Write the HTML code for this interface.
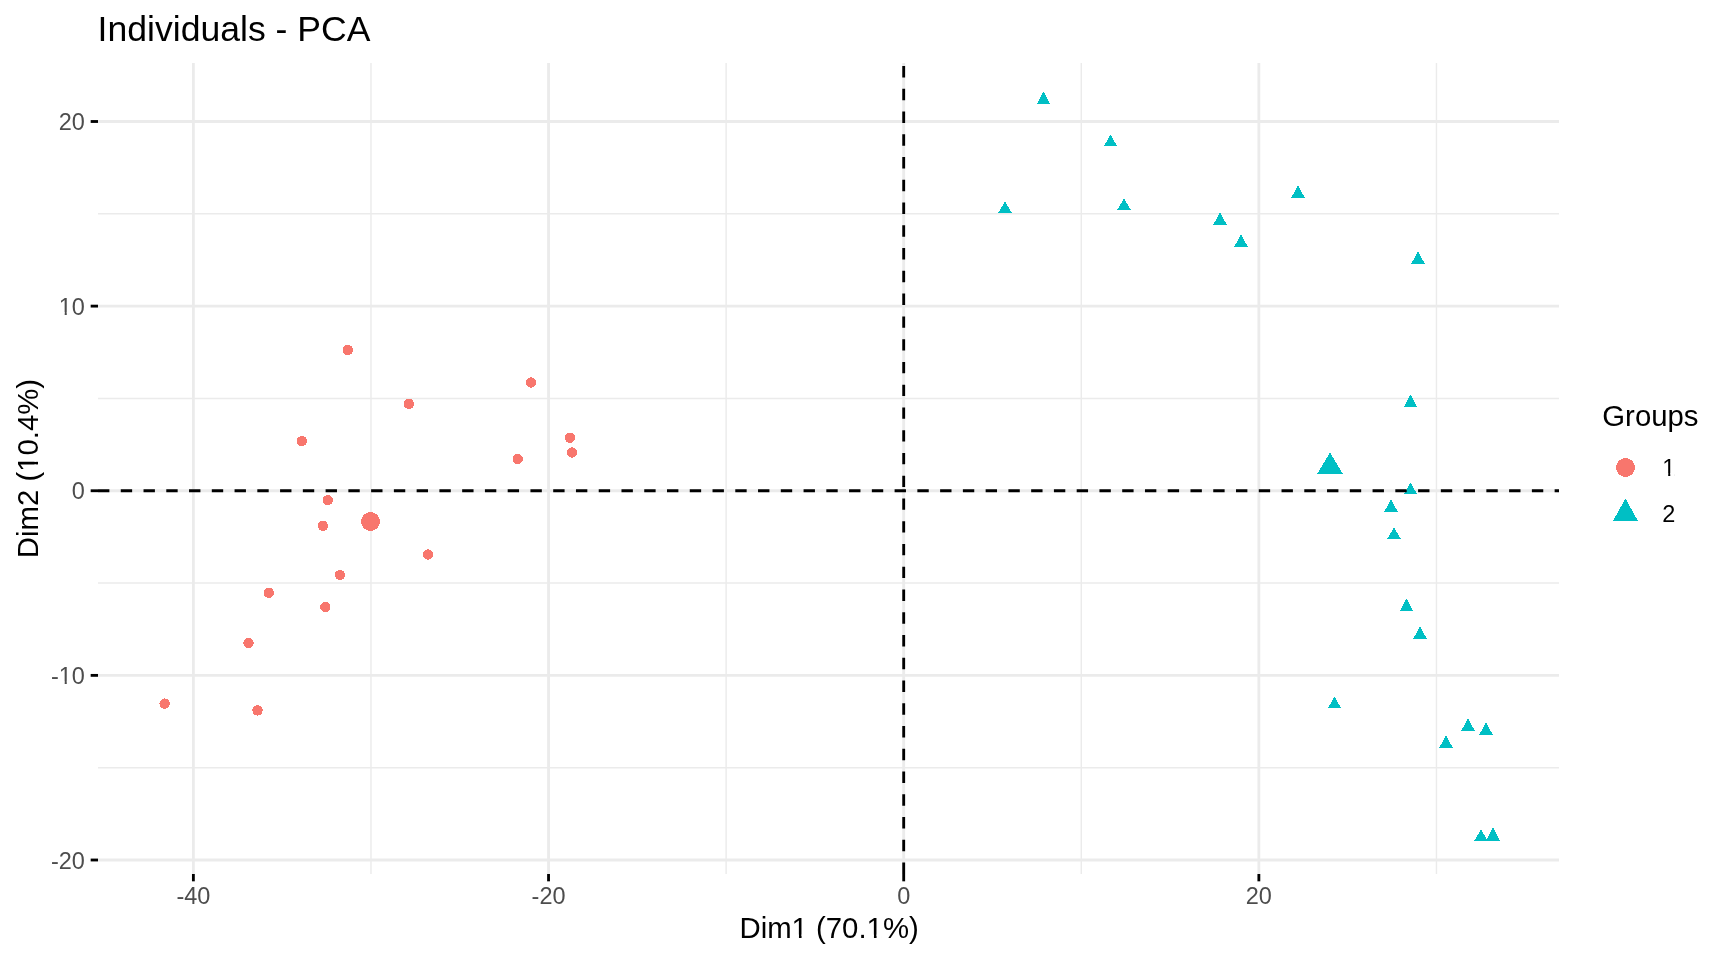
<!DOCTYPE html><html><head><meta charset="utf-8"><title>Individuals - PCA</title>
<style>html,body{margin:0;padding:0;background:#fff;width:1728px;height:960px;overflow:hidden}svg{display:block;will-change:transform}circle,polygon{shape-rendering:crispEdges}text{font-family:"Liberation Sans",sans-serif}</style></head><body>
<svg width="1728" height="960" viewBox="0 0 1728 960">
<rect width="1728" height="960" fill="#fff"/>
<line x1="370.96" y1="874" x2="370.96" y2="63" stroke="#EBEBEB" stroke-width="1.42"/>
<line x1="726.12" y1="874" x2="726.12" y2="63" stroke="#EBEBEB" stroke-width="1.42"/>
<line x1="1081.28" y1="874" x2="1081.28" y2="63" stroke="#EBEBEB" stroke-width="1.42"/>
<line x1="1436.44" y1="874" x2="1436.44" y2="63" stroke="#EBEBEB" stroke-width="1.42"/>
<line x1="98" y1="213.81" x2="1559" y2="213.81" stroke="#EBEBEB" stroke-width="1.42"/>
<line x1="98" y1="398.44" x2="1559" y2="398.44" stroke="#EBEBEB" stroke-width="1.42"/>
<line x1="98" y1="583.06" x2="1559" y2="583.06" stroke="#EBEBEB" stroke-width="1.42"/>
<line x1="98" y1="767.69" x2="1559" y2="767.69" stroke="#EBEBEB" stroke-width="1.42"/>
<line x1="193.38" y1="874" x2="193.38" y2="63" stroke="#EBEBEB" stroke-width="2.84"/>
<line x1="548.54" y1="874" x2="548.54" y2="63" stroke="#EBEBEB" stroke-width="2.84"/>
<line x1="903.70" y1="874" x2="903.70" y2="63" stroke="#EBEBEB" stroke-width="2.84"/>
<line x1="1258.86" y1="874" x2="1258.86" y2="63" stroke="#EBEBEB" stroke-width="2.84"/>
<line x1="98" y1="121.50" x2="1559" y2="121.50" stroke="#EBEBEB" stroke-width="2.84"/>
<line x1="98" y1="306.12" x2="1559" y2="306.12" stroke="#EBEBEB" stroke-width="2.84"/>
<line x1="98" y1="490.75" x2="1559" y2="490.75" stroke="#EBEBEB" stroke-width="2.84"/>
<line x1="98" y1="675.38" x2="1559" y2="675.38" stroke="#EBEBEB" stroke-width="2.84"/>
<line x1="98" y1="860.00" x2="1559" y2="860.00" stroke="#EBEBEB" stroke-width="2.84"/>
<circle cx="347.8" cy="350.1" r="5.2" fill="#F8766D"/>
<circle cx="531.0" cy="382.5" r="5.2" fill="#F8766D"/>
<circle cx="408.9" cy="403.9" r="5.2" fill="#F8766D"/>
<circle cx="301.9" cy="441.1" r="5.2" fill="#F8766D"/>
<circle cx="569.9" cy="437.7" r="5.2" fill="#F8766D"/>
<circle cx="572.0" cy="452.5" r="5.2" fill="#F8766D"/>
<circle cx="517.7" cy="459.0" r="5.2" fill="#F8766D"/>
<circle cx="327.7" cy="500.2" r="5.2" fill="#F8766D"/>
<circle cx="322.9" cy="525.8" r="5.2" fill="#F8766D"/>
<circle cx="428.0" cy="554.5" r="5.2" fill="#F8766D"/>
<circle cx="340.0" cy="575.0" r="5.2" fill="#F8766D"/>
<circle cx="268.75" cy="592.7" r="5.2" fill="#F8766D"/>
<circle cx="325.4" cy="607.0" r="5.2" fill="#F8766D"/>
<circle cx="248.5" cy="643.0" r="5.2" fill="#F8766D"/>
<circle cx="164.6" cy="703.6" r="5.2" fill="#F8766D"/>
<circle cx="257.5" cy="710.4" r="5.2" fill="#F8766D"/>
<circle cx="370.5" cy="521.5" r="9.5" fill="#F8766D"/>
<polygon points="1043.50,91.50 1050.00,104.00 1037.00,104.00" fill="#00BFC4"/>
<polygon points="1110.50,134.50 1117.00,146.00 1104.00,146.00" fill="#00BFC4"/>
<polygon points="1005.00,201.50 1012.00,213.00 998.00,213.00" fill="#00BFC4"/>
<polygon points="1124.00,198.50 1131.00,210.00 1117.00,210.00" fill="#00BFC4"/>
<polygon points="1220.00,212.50 1227.00,225.00 1213.00,225.00" fill="#00BFC4"/>
<polygon points="1241.00,234.50 1248.00,247.00 1234.00,247.00" fill="#00BFC4"/>
<polygon points="1298.00,185.50 1305.00,198.00 1291.00,198.00" fill="#00BFC4"/>
<polygon points="1418.00,251.50 1425.00,264.00 1411.00,264.00" fill="#00BFC4"/>
<polygon points="1410.50,394.50 1417.00,407.00 1404.00,407.00" fill="#00BFC4"/>
<polygon points="1410.50,482.50 1417.00,494.00 1404.00,494.00" fill="#00BFC4"/>
<polygon points="1391.00,499.50 1398.00,512.00 1384.00,512.00" fill="#00BFC4"/>
<polygon points="1394.00,527.50 1401.00,539.00 1387.00,539.00" fill="#00BFC4"/>
<polygon points="1406.50,598.50 1413.00,611.00 1400.00,611.00" fill="#00BFC4"/>
<polygon points="1420.00,626.50 1427.00,639.00 1413.00,639.00" fill="#00BFC4"/>
<polygon points="1334.50,696.50 1341.00,708.00 1328.00,708.00" fill="#00BFC4"/>
<polygon points="1468.00,718.50 1475.00,731.00 1461.00,731.00" fill="#00BFC4"/>
<polygon points="1486.00,722.50 1493.00,735.00 1479.00,735.00" fill="#00BFC4"/>
<polygon points="1446.00,735.50 1453.00,748.00 1439.00,748.00" fill="#00BFC4"/>
<polygon points="1481.00,829.50 1488.00,841.00 1474.00,841.00" fill="#00BFC4"/>
<polygon points="1493.00,827.50 1500.00,841.00 1486.00,841.00" fill="#00BFC4"/>
<polygon points="1330.00,452.50 1343.00,474.00 1317.00,474.00" fill="#00BFC4"/>
<line x1="98" y1="490.75" x2="1559" y2="490.75" stroke="#000" stroke-width="2.84" stroke-dasharray="11.38 11.38"/>
<line x1="903.70" y1="874" x2="903.70" y2="63" stroke="#000" stroke-width="2.84" stroke-dasharray="11.38 11.38"/>
<line x1="193.38" y1="874" x2="193.38" y2="881.33" stroke="#000" stroke-width="2.84"/>
<line x1="548.54" y1="874" x2="548.54" y2="881.33" stroke="#000" stroke-width="2.84"/>
<line x1="903.70" y1="874" x2="903.70" y2="881.33" stroke="#000" stroke-width="2.84"/>
<line x1="1258.86" y1="874" x2="1258.86" y2="881.33" stroke="#000" stroke-width="2.84"/>
<line x1="90.67" y1="121.50" x2="98" y2="121.50" stroke="#000" stroke-width="2.84"/>
<line x1="90.67" y1="306.12" x2="98" y2="306.12" stroke="#000" stroke-width="2.84"/>
<line x1="90.67" y1="490.75" x2="98" y2="490.75" stroke="#000" stroke-width="2.84"/>
<line x1="90.67" y1="675.38" x2="98" y2="675.38" stroke="#000" stroke-width="2.84"/>
<line x1="90.67" y1="860.00" x2="98" y2="860.00" stroke="#000" stroke-width="2.84"/>
<text x="84.9" y="130.20" font-size="23.47" fill="#4D4D4D" text-anchor="end">20</text>
<text x="84.9" y="314.82" font-size="23.47" fill="#4D4D4D" text-anchor="end">10</text>
<text x="84.9" y="499.45" font-size="23.47" fill="#4D4D4D" text-anchor="end">0</text>
<text x="84.9" y="684.08" font-size="23.47" fill="#4D4D4D" text-anchor="end">-10</text>
<text x="84.9" y="868.70" font-size="23.47" fill="#4D4D4D" text-anchor="end">-20</text>
<text x="193.38" y="904.0" font-size="23.47" fill="#4D4D4D" text-anchor="middle">-40</text>
<text x="548.54" y="904.0" font-size="23.47" fill="#4D4D4D" text-anchor="middle">-20</text>
<text x="903.70" y="904.0" font-size="23.47" fill="#4D4D4D" text-anchor="middle">0</text>
<text x="1258.86" y="904.0" font-size="23.47" fill="#4D4D4D" text-anchor="middle">20</text>
<text x="829.1" y="937.6" font-size="29.33" fill="#000" text-anchor="middle">Dim1 (70.1%)</text>
<text transform="translate(37.5,468.5) rotate(-90)" x="0" y="0" font-size="29.33" fill="#000" text-anchor="middle">Dim2 (10.4%)</text>
<text x="97.6" y="40.7" font-size="35.6" fill="#000">Individuals - PCA</text>
<text x="1602.3" y="425.9" font-size="29.33" fill="#000">Groups</text>
<circle cx="1625.5" cy="467.5" r="9.5" fill="#F8766D"/>
<polygon points="1625.50,498.50 1638.00,521.00 1613.00,521.00" fill="#00BFC4"/>
<text x="1662.3" y="475.9" font-size="23.47" fill="#000">1</text>
<text x="1662.3" y="521.8" font-size="23.47" fill="#000">2</text>
<rect x="59.49" y="312.27" width="5.20" height="3.35" fill="#fff"/><rect x="66.77" y="312.27" width="4.35" height="3.35" fill="#fff"/>
<rect x="59.49" y="681.53" width="5.20" height="3.35" fill="#fff"/><rect x="66.77" y="681.53" width="4.35" height="3.35" fill="#fff"/>
<rect x="792.46" y="934.61" width="6.50" height="3.79" fill="#fff"/><rect x="801.55" y="934.61" width="5.43" height="3.79" fill="#fff"/>
<rect x="867.45" y="934.61" width="6.50" height="3.79" fill="#fff"/><rect x="876.54" y="934.61" width="5.43" height="3.79" fill="#fff"/>
<g transform="translate(37.5,468.5) rotate(-90)"><rect x="-2.42" y="-2.99" width="6.50" height="3.79" fill="#fff"/><rect x="6.67" y="-2.99" width="5.43" height="3.79" fill="#fff"/></g>
<rect x="1663.00" y="473.35" width="5.20" height="3.35" fill="#fff"/><rect x="1670.28" y="473.35" width="4.35" height="3.35" fill="#fff"/>
</svg></body></html>
